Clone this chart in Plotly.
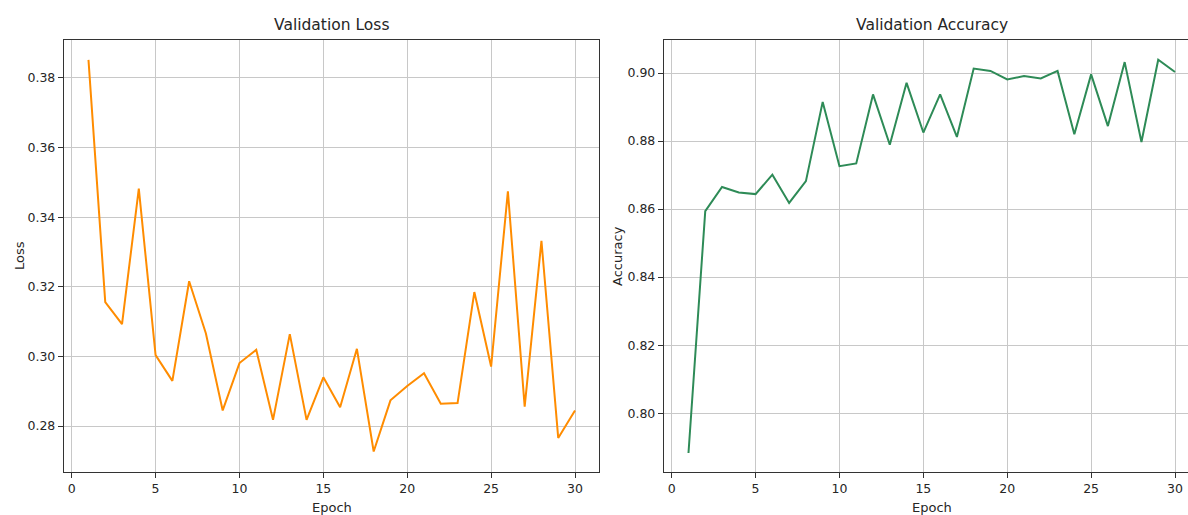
import plotly.graph_objects as go

# Per-epoch validation metrics
epochs = list(range(1, 31))
val_loss = [0.3852, 0.3156, 0.3093, 0.3482, 0.3004, 0.2930, 0.3216, 0.3066, 0.2845, 0.2981,
            0.3019, 0.2818, 0.3064, 0.2818, 0.2940, 0.2854, 0.3022, 0.2727, 0.2874, 0.2915,
            0.2952, 0.2864, 0.2866, 0.3185, 0.2971, 0.3474, 0.2856, 0.3332, 0.2766, 0.2845]
val_acc = [0.7883, 0.8594, 0.8665, 0.8649, 0.8644, 0.8701, 0.8618, 0.8682, 0.8915, 0.8726,
           0.8734, 0.8937, 0.8789, 0.8971, 0.8825, 0.8937, 0.8812, 0.9013, 0.9006, 0.8981,
           0.8991, 0.8984, 0.9006, 0.8820, 0.8996, 0.8844, 0.9032, 0.8797, 0.9039, 0.9003]

x_ticks = [0, 5, 10, 15, 20, 25, 30]
loss_ticks = [0.28, 0.30, 0.32, 0.34, 0.36, 0.38]
acc_ticks = [0.80, 0.82, 0.84, 0.86, 0.88, 0.90]

W, H = 1188, 515
FONT = "DejaVu Sans"
TEXT = "#262626"
SPINE = "#333333"
GRID = "#c8c8c8"

fig = go.Figure()
fig.add_trace(go.Scatter(x=epochs, y=val_loss, mode="lines",
                         line=dict(color="#FF8C00", width=2), xaxis="x", yaxis="y",
                         showlegend=False))
fig.add_trace(go.Scatter(x=epochs, y=val_acc, mode="lines",
                         line=dict(color="#2E8B57", width=2), xaxis="x2", yaxis="y2",
                         showlegend=False))

# panel placement in pixels
L1, R1 = 64, 599
L2, R2 = 664, 1188
TOP, BOT = 40, 471.7
ydom = [1 - BOT / H, 1 - TOP / H]

# epoch scale shared by both panels (px per epoch)
x0_px1 = 71.7
ppe = (575 - 71.7) / 30
x_lo = (L1 - x0_px1) / ppe
x_hi = (R1 - x0_px1) / ppe
x0_px2 = 671.7
x2_lo = (L2 - x0_px2) / ppe
x2_hi = (R2 - x0_px2) / ppe

axis_common = dict(
    showgrid=True, gridcolor=GRID, gridwidth=1,
    zeroline=False, showline=True, linecolor=SPINE, linewidth=1.4,
    ticks="outside", ticklen=5, tickwidth=1, tickcolor=SPINE,
    tickfont=dict(family=FONT, size=12.5, color=TEXT),
)

fig.update_layout(
    width=W, height=H,
    margin=dict(l=0, r=0, t=0, b=0),
    paper_bgcolor="white", plot_bgcolor="white",
    xaxis=dict(domain=[L1 / W, R1 / W], range=[x_lo, x_hi], tickvals=x_ticks,
               mirror=True, anchor="y", **axis_common),
    yaxis=dict(domain=ydom, range=[0.2669, 0.3909], tickvals=loss_ticks,
               tickformat=".2f", mirror=True, anchor="x", **axis_common),
    xaxis2=dict(domain=[L2 / W, R2 / W], range=[x2_lo, x2_hi], tickvals=x_ticks,
                mirror=True, anchor="y2", **axis_common),
    yaxis2=dict(domain=ydom, range=[0.7828, 0.9097], tickvals=acc_ticks,
                tickformat=".2f", mirror=False, anchor="x2", **axis_common),
)

def px_to_paper(xp, yp):
    return xp / W, 1 - yp / H

annotations = []
for text, xc, yc, size, angle in [
    ("Validation Loss", 331.5, 24.5, 15.5, 0),
    ("Validation Accuracy", 931.5, 24.5, 15.5, 0),
    ("Epoch", 331.5, 507, 13, 0),
    ("Epoch", 931.5, 507, 13, 0),
    ("Loss", 19, 256, 13, -90),
    ("Accuracy", 617, 256, 13, -90),
]:
    xp, yp = px_to_paper(xc, yc)
    annotations.append(dict(text=text, x=xp, y=yp, xref="paper", yref="paper",
                            xanchor="center", yanchor="middle", showarrow=False,
                            textangle=angle,
                            font=dict(family=FONT, size=size, color=TEXT)))
fig.update_layout(annotations=annotations)

fig.write_html("out.html")
